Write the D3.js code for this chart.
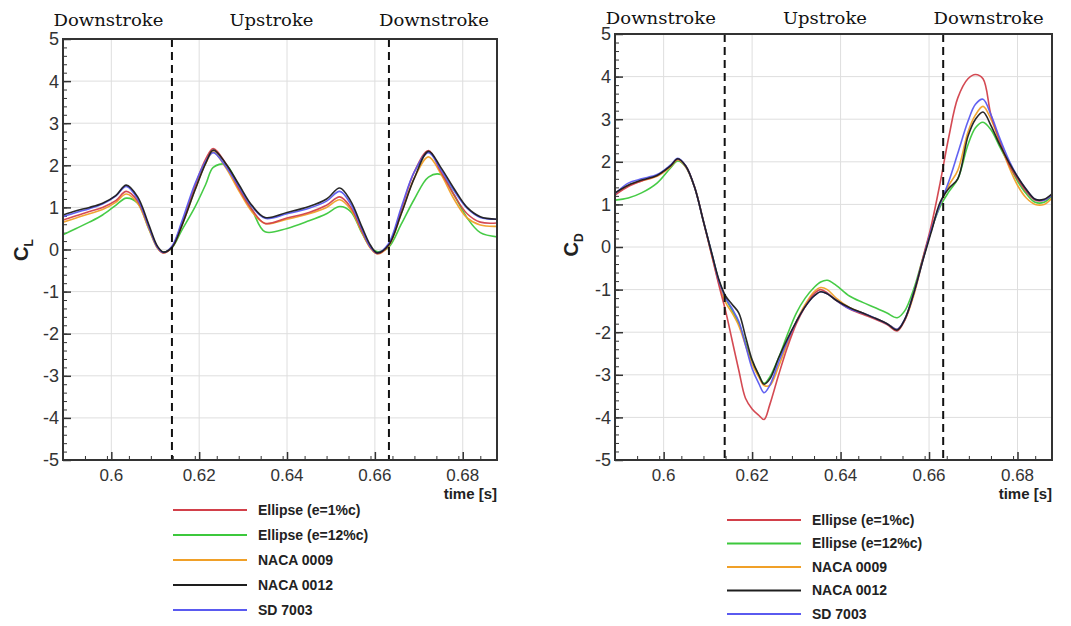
<!DOCTYPE html>
<html><head><meta charset="utf-8">
<script src="https://cdn.jsdelivr.net/npm/d3@7"></script>
<style>
html,body{margin:0;padding:0;background:#fff;}
svg{display:block;}
</style></head>
<body>
<svg id="chart" width="1071" height="626"></svg>
<script>
// ---------- data ----------
const seriesNames = ["Ellipse (e=1%c)", "Ellipse (e=12%c)", "NACA 0009", "NACA 0012", "SD 7003"];
const seriesColors = ["#d2404a", "#3cc83c", "#f0a028", "#1e1e1e", "#5a5af0"];
const phaseLabels = ["Downstroke", "Upstroke", "Downstroke"];
const strokeTimes = [0.6138, 0.6632];
const timeDomain = [0.589, 0.6878];
const xTicks = [0.6, 0.62, 0.64, 0.66, 0.68];
const xTickLabels = ["0.6", "0.62", "0.64", "0.66", "0.68"];
const yTicks = [5, 4, 3, 2, 1, 0, -1, -2, -3, -4, -5];

// lift coefficient
const tCL = [0.589, 0.592, 0.595, 0.598, 0.601, 0.6034, 0.606, 0.6085, 0.6105, 0.6118, 0.6138, 0.616, 0.619, 0.6215, 0.6232, 0.626, 0.629, 0.632, 0.635, 0.64, 0.645, 0.649, 0.652, 0.6545, 0.657, 0.659, 0.6605, 0.6631, 0.666, 0.669, 0.6722, 0.675, 0.678, 0.681, 0.684, 0.6878];
const clEllipse1  = [0.70, 0.80, 0.90, 1.00, 1.16, 1.38, 1.15, 0.55, 0.05, -0.08, 0.06, 0.60, 1.50, 2.15, 2.40, 2.05, 1.45, 0.95, 0.62, 0.75, 0.88, 1.05, 1.25, 1.00, 0.45, 0.05, -0.10, 0.10, 0.95, 1.85, 2.35, 1.85, 1.30, 0.85, 0.65, 0.63];
const clEllipse12 = [0.35, 0.50, 0.65, 0.82, 1.05, 1.22, 1.10, 0.50, 0.05, -0.06, 0.04, 0.45, 1.00, 1.55, 1.95, 2.02, 1.50, 0.95, 0.42, 0.50, 0.68, 0.85, 1.02, 0.90, 0.40, 0.05, -0.05, 0.05, 0.60, 1.20, 1.72, 1.78, 1.30, 0.75, 0.40, 0.30];
const clNaca0009  = [0.65, 0.75, 0.85, 0.95, 1.12, 1.32, 1.10, 0.50, 0.03, -0.08, 0.05, 0.55, 1.40, 2.05, 2.32, 1.95, 1.40, 0.90, 0.62, 0.72, 0.85, 1.00, 1.18, 0.95, 0.42, 0.03, -0.10, 0.08, 0.85, 1.70, 2.20, 1.80, 1.20, 0.75, 0.58, 0.55];
const clNaca0012  = [0.82, 0.92, 1.00, 1.10, 1.28, 1.53, 1.25, 0.60, 0.08, -0.06, 0.05, 0.55, 1.40, 2.05, 2.36, 2.05, 1.55, 1.05, 0.76, 0.88, 1.02, 1.20, 1.46, 1.15, 0.55, 0.10, -0.08, 0.10, 0.85, 1.70, 2.33, 1.95, 1.45, 1.00, 0.78, 0.72];
const clSd7003    = [0.78, 0.88, 0.97, 1.08, 1.27, 1.50, 1.20, 0.55, 0.05, -0.07, 0.08, 0.65, 1.55, 2.10, 2.30, 1.98, 1.50, 1.02, 0.74, 0.85, 0.98, 1.15, 1.38, 1.08, 0.50, 0.06, -0.08, 0.14, 1.00, 1.85, 2.30, 1.90, 1.40, 0.98, 0.76, 0.72];

// drag coefficient
const tCD = [0.589, 0.592, 0.595, 0.5985, 0.6015, 0.6032, 0.605, 0.607, 0.609, 0.611, 0.6125, 0.614, 0.6155, 0.617, 0.6185, 0.62, 0.6215, 0.6227, 0.624, 0.626, 0.628, 0.630, 0.632, 0.634, 0.6355, 0.637, 0.639, 0.642, 0.645, 0.648, 0.6505, 0.6528, 0.6545, 0.6565, 0.6585, 0.6605, 0.6625, 0.6645, 0.6665, 0.6688, 0.6705, 0.6722, 0.674, 0.676, 0.678, 0.680, 0.682, 0.684, 0.686, 0.6878];
const cdEllipse1  = [1.22, 1.42, 1.55, 1.68, 1.90, 2.06, 1.90, 1.40, 0.60, -0.25, -0.90, -1.50, -2.20, -2.90, -3.55, -3.80, -3.95, -4.05, -3.70, -3.00, -2.35, -1.80, -1.40, -1.10, -1.00, -1.08, -1.25, -1.45, -1.58, -1.70, -1.82, -1.97, -1.72, -1.10, -0.30, 0.50, 1.50, 2.60, 3.50, 3.95, 4.05, 3.95, 3.10, 2.50, 1.95, 1.60, 1.30, 1.10, 1.10, 1.22];
const cdEllipse12 = [1.10, 1.15, 1.27, 1.50, 1.85, 2.02, 1.88, 1.40, 0.60, -0.20, -0.80, -1.20, -1.50, -1.80, -2.25, -2.70, -3.00, -3.20, -3.05, -2.60, -2.05, -1.55, -1.20, -0.95, -0.82, -0.78, -0.90, -1.15, -1.30, -1.43, -1.55, -1.66, -1.50, -1.00, -0.30, 0.40, 0.95, 1.30, 1.60, 2.40, 2.80, 2.93, 2.75, 2.35, 1.95, 1.55, 1.25, 1.05, 1.05, 1.20];
const cdNaca0009  = [1.25, 1.45, 1.55, 1.66, 1.88, 2.05, 1.88, 1.40, 0.60, -0.25, -0.85, -1.30, -1.55, -1.85, -2.30, -2.75, -3.05, -3.25, -3.25, -2.80, -2.25, -1.75, -1.35, -1.05, -0.95, -1.00, -1.20, -1.42, -1.55, -1.68, -1.80, -1.93, -1.72, -1.15, -0.35, 0.40, 1.00, 1.45, 1.80, 2.70, 3.10, 3.30, 3.00, 2.45, 1.90, 1.45, 1.15, 1.00, 1.00, 1.15];
const cdNaca0012  = [1.27, 1.45, 1.57, 1.68, 1.90, 2.07, 1.90, 1.40, 0.60, -0.20, -0.77, -1.15, -1.35, -1.55, -2.10, -2.65, -3.00, -3.22, -3.10, -2.60, -2.15, -1.75, -1.40, -1.15, -1.05, -1.10, -1.25, -1.42, -1.55, -1.68, -1.80, -1.95, -1.70, -1.10, -0.35, 0.35, 1.05, 1.38, 1.60, 2.60, 3.00, 3.17, 2.85, 2.40, 2.00, 1.65, 1.35, 1.12, 1.12, 1.25];
const cdSd7003    = [1.25, 1.50, 1.60, 1.70, 1.92, 2.08, 1.90, 1.40, 0.60, -0.20, -0.80, -1.20, -1.45, -1.75, -2.30, -2.85, -3.20, -3.42, -3.25, -2.70, -2.20, -1.75, -1.40, -1.15, -1.05, -1.10, -1.25, -1.45, -1.55, -1.68, -1.80, -1.93, -1.70, -1.10, -0.35, 0.40, 1.00, 1.55, 2.20, 2.95, 3.35, 3.47, 3.10, 2.55, 2.05, 1.65, 1.35, 1.12, 1.10, 1.22];

const clSeries = [clEllipse1, clEllipse12, clNaca0009, clNaca0012, clSd7003];
const cdSeries = [cdEllipse1, cdEllipse12, cdNaca0009, cdNaca0012, cdSd7003];

// ---------- drawing ----------
const svg = d3.select("#chart");
const sans = "Liberation Sans, Arial, sans-serif";

function panel(cfg) {
  const g = svg.append("g");
  const x = d3.scaleLinear().domain(timeDomain).range([cfg.x0, cfg.x1]);
  const y = d3.scaleLinear().domain([-5, 5]).range([cfg.y1, cfg.y0]);

  // grid
  g.append("g").selectAll("line.gx").data(xTicks).join("line")
    .attr("x1", d => x(d)).attr("x2", d => x(d)).attr("y1", cfg.y0).attr("y2", cfg.y1)
    .attr("stroke", "#dedede").attr("stroke-width", 1);
  g.append("g").selectAll("line.gy").data(yTicks).join("line")
    .attr("x1", cfg.x0).attr("x2", cfg.x1).attr("y1", d => y(d)).attr("y2", d => y(d))
    .attr("stroke", "#dedede").attr("stroke-width", 1);

  // axes with inward ticks
  const yAxisMinor = d3.axisRight(y).tickValues(d3.range(-50, 51, 2).map(v => v / 10)).tickSize(4).tickFormat("");
  const yAxisMajor = d3.axisRight(y).tickValues(yTicks).tickSize(8).tickFormat("");
  g.append("g").attr("transform", `translate(${cfg.x0},0)`).call(yAxisMinor).call(a => a.select(".domain").remove())
    .selectAll("line").attr("stroke", "#333");
  g.append("g").attr("transform", `translate(${cfg.x0},0)`).call(yAxisMajor).call(a => a.select(".domain").remove())
    .selectAll("line").attr("stroke", "#333").attr("stroke-width", 1.5);
  const minorX = d3.range(5890, 6880, 50).map(v => v / 10000).filter(v => v >= timeDomain[0]);
  const xAxisMinor = d3.axisTop(x).tickValues(minorX).tickSize(4).tickFormat("");
  const xAxisMajor = d3.axisTop(x).tickValues(xTicks).tickSize(8).tickFormat("");
  g.append("g").attr("transform", `translate(0,${cfg.y1})`).call(xAxisMinor).call(a => a.select(".domain").remove())
    .selectAll("line").attr("stroke", "#333");
  g.append("g").attr("transform", `translate(0,${cfg.y1})`).call(xAxisMajor).call(a => a.select(".domain").remove())
    .selectAll("line").attr("stroke", "#333").attr("stroke-width", 1.5);

  // tick labels
  g.append("g").selectAll("text").data(yTicks).join("text")
    .attr("x", cfg.x0 - 4).attr("y", d => y(d)).attr("dy", "0.36em")
    .attr("text-anchor", "end").attr("font-family", sans).attr("font-size", 18).attr("fill", "#333")
    .text(d => String(d));
  g.append("g").selectAll("text").data(xTicks).join("text")
    .attr("x", d => x(d)).attr("y", cfg.y1 + 21)
    .attr("text-anchor", "middle").attr("font-family", sans).attr("font-size", 17).attr("fill", "#333")
    .text((d, i) => xTickLabels[i]);
  g.append("text").attr("x", cfg.x1).attr("y", cfg.y1 + 39).attr("text-anchor", "end")
    .attr("font-family", sans).attr("font-weight", "bold").attr("font-size", 15).attr("fill", "#222")
    .text("time [s]");

  // y title
  const yt = g.append("text").attr("transform", `translate(${cfg.titleX},${cfg.titleY}) rotate(-90)`)
    .attr("text-anchor", "middle").attr("font-family", sans).attr("font-weight", "bold").attr("font-size", 20).attr("fill", "#222");
  yt.append("tspan").text("C");
  yt.append("tspan").attr("font-size", 12).attr("dy", 5).text(cfg.sub);

  // data lines
  const clip = "clip" + cfg.id;
  svg.append("clipPath").attr("id", clip).append("rect")
    .attr("x", cfg.x0).attr("y", cfg.y0).attr("width", cfg.x1 - cfg.x0).attr("height", cfg.y1 - cfg.y0);
  const line = d3.line().x(d => x(d[0])).y(d => y(d[1])).curve(d3.curveCatmullRom.alpha(0.5));
  const order = [1, 2, 0, 4, 3];
  g.append("g").attr("clip-path", `url(#${clip})`).selectAll("path").data(order).join("path")
    .attr("d", i => line(cfg.t.map((t, k) => [t, cfg.series[i][k]])))
    .attr("fill", "none").attr("stroke", i => seriesColors[i]).attr("stroke-width", 1.6)
    .attr("stroke-linejoin", "round").attr("opacity", 0.95);

  // stroke reversal lines
  g.append("g").selectAll("line").data(strokeTimes).join("line")
    .attr("x1", d => x(d)).attr("x2", d => x(d)).attr("y1", cfg.y0).attr("y2", cfg.y1)
    .attr("stroke", "#111").attr("stroke-width", 2).attr("stroke-dasharray", "8,5");

  // frame
  g.append("rect").attr("x", cfg.x0).attr("y", cfg.y0).attr("width", cfg.x1 - cfg.x0).attr("height", cfg.y1 - cfg.y0)
    .attr("fill", "none").attr("stroke", "#333").attr("stroke-width", 2);

  // phase labels
  const bounds = [x.range()[0], x(strokeTimes[0]), x(strokeTimes[1]), x.range()[1]];
  g.append("g").selectAll("text").data(phaseLabels).join("text")
    .attr("x", (d, i) => (bounds[i] + bounds[i + 1]) / 2 - 9).attr("y", cfg.phaseY)
    .attr("text-anchor", "middle").attr("font-family", "DejaVu Serif, serif").attr("font-size", 17).attr("fill", "#111")
    .attr("textLength", (d) => d === "Upstroke" ? 84 : 110).attr("lengthAdjust", "spacingAndGlyphs")
    .text(d => d);

  // legend
  const lg = g.append("g");
  seriesNames.forEach((name, i) => {
    const yy = cfg.legY + i * cfg.legDy;
    lg.append("line").attr("x1", cfg.legX).attr("x2", cfg.legX + 74).attr("y1", yy).attr("y2", yy)
      .attr("stroke", seriesColors[i]).attr("stroke-width", 2);
    lg.append("text").attr("x", cfg.legX + 85).attr("y", yy).attr("dy", "0.35em")
      .attr("font-family", sans).attr("font-weight", "bold").attr("font-size", 14).attr("fill", "#222")
      .text(name);
  });
}

panel({id: "L", x0: 63, x1: 497, y0: 39, y1: 460, t: tCL, series: clSeries, sub: "L", phaseY: 26,
       titleX: 28, titleY: 250, legX: 173, legY: 510, legDy: 25});
panel({id: "D", x0: 615, x1: 1052, y0: 34, y1: 460, t: tCD, series: cdSeries, sub: "D", phaseY: 24,
       titleX: 578, titleY: 245, legX: 727, legY: 520, legDy: 23.5});
</script>
</body></html>
